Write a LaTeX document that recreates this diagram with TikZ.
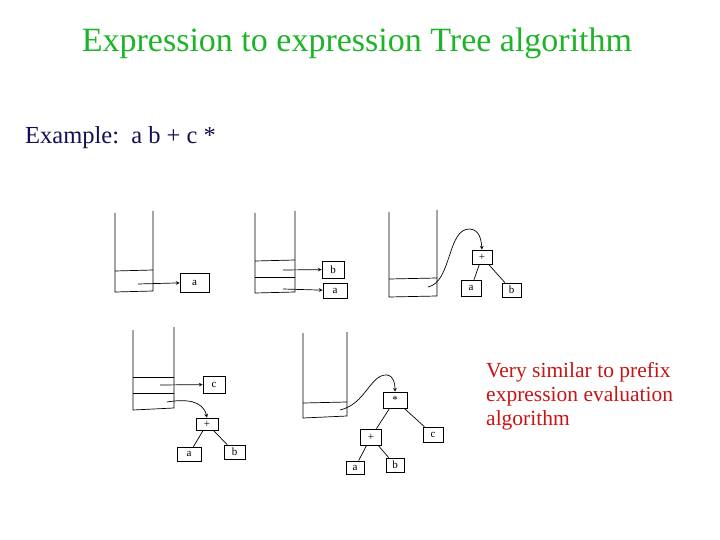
\documentclass[tikz,border=0pt]{standalone}
\usepackage{fontspec}
\setmainfont{Liberation Serif}
\usepackage{tikz}
\usetikzlibrary{positioning}

\definecolor{titlegreen}{RGB}{30,180,40}
\definecolor{exnavy}{RGB}{20,15,80}
\definecolor{notered}{RGB}{200,20,20}

\begin{document}
\begin{tikzpicture}[x=1pt, y=-1pt,
        box/.style={draw, line width=0.7pt, inner sep=0pt, font=\fontsize{11}{12}\selectfont},
        stk/.style={draw, line width=0.7pt},
        link/.style={->, line width=0.7pt, >=stealth}]
        \useasboundingbox (0,0) rectangle (720,540);

        % texts
        \node (title) [font=\fontsize{34}{40}\selectfont, text=titlegreen] at (357,43) {Expression to expression Tree algorithm};
        \node (example) [font=\fontsize{24.5}{28}\selectfont, text=exnavy, anchor=west, inner sep=0pt] at (25,138) {Example:\ \ a b + c *};
        \node (note) [font=\fontsize{21.5}{24}\selectfont, text=notered, anchor=north west, align=left, inner sep=0pt] at (486,362)
            {Very similar to prefix\\expression evaluation\\algorithm};

        % step 1
        \draw[stk] (115,213) -- (115,292) -- (153,291) -- (153,211);
        \draw[stk] (115,271) -- (153,270);
        \coordinate (s1a) at (138,284);
        \node (a1) [box, minimum width=29pt, minimum height=19pt] at (194.5,282.5) {a};
        \draw[link] (s1a) -- (a1);

        % step 2
        \draw[stk] (255,213) -- (255,293) -- (295,292) -- (295,211);
        \draw[stk] (255,261) -- (295,260);
        \draw[stk] (255,277) -- (295,277);
        \coordinate (s2b) at (283,270);
        \coordinate (s2a) at (283,289);
        \node (b2) [box, minimum width=22pt, minimum height=17pt] at (333,269.5) {b};
        \node (a2) [box, minimum width=24pt, minimum height=15pt] at (335,290.5) {a};
        \draw[link] (s2b) -- (b2);
        \draw[link] (s2a) -- (a2);

        % step 3
        \draw[stk] (389,212) -- (389,297) -- (437,296) -- (437,210);
        \draw[stk] (389,279) -- (437,278);
        \coordinate (s3p) at (428,287);
        \node (p3) [box, minimum width=20pt, minimum height=14pt] at (482,257) {+};
        \node (a3) [box, minimum width=20pt, minimum height=16pt] at (471,288) {a};
        \node (b3) [box, minimum width=19pt, minimum height=14pt] at (511.5,290) {b};
        \draw[link] (s3p) .. controls (452,282) and (447,228) .. (470,229) .. controls (479,230) and (481,238) .. (p3.north);
        \draw[line width=0.7pt] (p3) -- (a3);
        \draw[line width=0.7pt] (p3) -- (b3);

        % step 4
        \draw[stk] (133,330) -- (133,410) -- (174,408) -- (174,327);
        \draw[stk] (133,377) -- (174,377);
        \draw[stk] (133,393) -- (174,393);
        \coordinate (s4c) at (160,385);
        \coordinate (s4p) at (167,402);
        \node (c4) [box, minimum width=22pt, minimum height=17pt] at (214,384.5) {c};
        \node (p4) [box, minimum width=22pt, minimum height=12pt] at (207,424) {+};
        \node (a4) [box, minimum width=24pt, minimum height=14pt] at (189,454) {a};
        \node (b4) [box, minimum width=21pt, minimum height=14pt] at (234.5,452) {b};
        \draw[link] (s4c) -- (c4);
        \draw[link] (s4p) .. controls (185,399) and (203,400) .. (p4.north);
        \draw[line width=0.7pt] (p4) -- (a4);
        \draw[line width=0.7pt] (p4) -- (b4);

        % step 5
        \draw[stk] (303,333) -- (303,418) -- (347,416) -- (347,332);
        \draw[stk] (303,403) -- (347,402);
        \coordinate (s5m) at (340,410);
        \node (m5) [box, minimum width=24pt, minimum height=16pt] at (395,400) {*};
        \node (p5) [box, minimum width=21pt, minimum height=16pt] at (371,437) {+};
        \node (c5) [box, minimum width=20pt, minimum height=15pt] at (433,434.5) {c};
        \node (a5) [box, minimum width=18pt, minimum height=13pt] at (355,467.5) {a};
        \node (b5) [box, minimum width=18pt, minimum height=14pt] at (395,465) {b};
        \draw[link] (s5m) .. controls (366,404) and (370,374) .. (387,375) .. controls (394,376) and (395,384) .. (m5.north);
        \draw[line width=0.7pt] (m5) -- (p5);
        \draw[line width=0.7pt] (m5) -- (c5);
        \draw[line width=0.7pt] (p5) -- (a5);
        \draw[line width=0.7pt] (p5) -- (b5);
\end{tikzpicture}
\end{document}
